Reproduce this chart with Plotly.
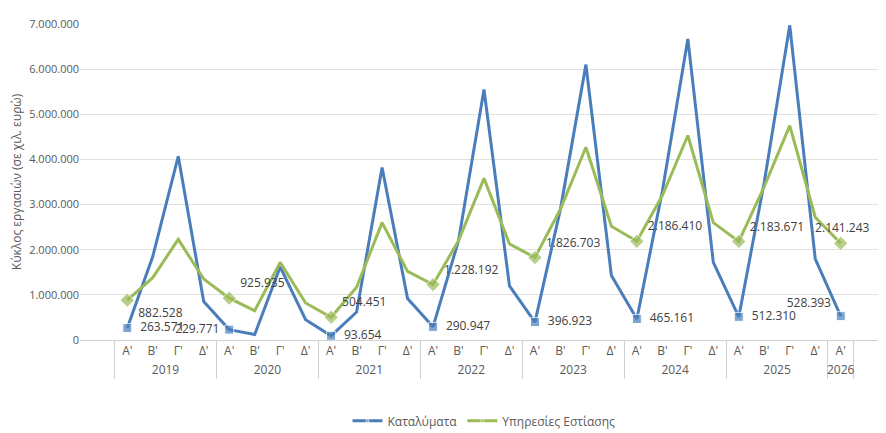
import plotly.graph_objects as go

years = ['2019'] * 4 + ['2020'] * 4 + ['2021'] * 4 + ['2022'] * 4 + ['2023'] * 4 + ['2024'] * 4 + ['2025'] * 4 + ['2026']
quarters = ["Α'", "Β'", "Γ'", "Δ'"] * 7 + ["Α'"]

katalymata = [263571, 1850000, 4070000, 850000,
              229771, 120000, 1620000, 450000,
              93654, 620000, 3820000, 920000,
              290947, 2200000, 5550000, 1200000,
              396923, 2900000, 6100000, 1430000,
              465161, 3300000, 6670000, 1720000,
              512310, 3500000, 6970000, 1800000,
              528393]
estiasi = [882528, 1380000, 2230000, 1350000,
           925935, 650000, 1720000, 820000,
           504451, 1170000, 2600000, 1520000,
           1228192, 2200000, 3580000, 2130000,
           1826703, 2900000, 4270000, 2520000,
           2186410, 3200000, 4530000, 2600000,
           2183671, 3400000, 4750000, 2720000,
           2141243]

def fmt(v):
    return f'{v:,}'.replace(',', '.')

q1 = [q == "Α'" for q in quarters]
blue_text = ['  ' + fmt(v) + ' ' if f else '' for v, f in zip(katalymata, q1)]
green_text = [' ' + fmt(v) if f else '' for v, f in zip(estiasi, q1)]
sizes = [9 if f else 0 for f in q1]

blue_pos = ['middle right'] * 29
blue_pos[4] = 'middle left'
blue_pos[28] = 'top left'
green_pos = ['top right'] * 29
green_pos[0] = 'bottom right'
green_pos[28] = 'top center'

fig = go.Figure()
fig.add_trace(go.Scatter(x=[years, quarters], y=katalymata, mode='lines+markers+text',
                         name='Καταλύματα', line=dict(color='#4a7ebb', width=3),
                         marker=dict(symbol='square', size=sizes, color='#4a7ebb'),
                         text=blue_text, textposition=blue_pos,
                         textfont=dict(size=12, color='#404040')))
fig.add_trace(go.Scatter(x=[years, quarters], y=estiasi, mode='lines+markers+text',
                         name='Υπηρεσίες Εστίασης', line=dict(color='#9bbb59', width=3),
                         marker=dict(symbol='diamond', size=[s + 2 if s else 0 for s in sizes], color='#9bbb59'),
                         text=green_text, textposition=green_pos,
                         textfont=dict(size=12, color='#404040')))

fig.update_layout(width=886, height=433, plot_bgcolor='white', paper_bgcolor='white',
                  separators=',.',
                  font=dict(family='Open Sans', size=11, color='#595959'),
                  margin=dict(l=72, r=6, t=16, b=99),
                  legend=dict(orientation='h', x=0.5, xanchor='center', y=-0.21, yanchor='top',
                              font=dict(size=12)),
                  yaxis=dict(title=dict(text='Κύκλος εργασιών (σε χιλ. ευρώ)', font=dict(size=12), standoff=6),
                             range=[0, 7000000], dtick=1000000, tickformat=',d',
                             gridcolor='#e0e0e0', zeroline=True, zerolinecolor='#d0d0d0'),
                  xaxis=dict(showdividers=True, dividercolor='#d0d0d0', showline=True,
                             linecolor='#d0d0d0', tickfont=dict(size=12)))
fig.write_html("out.html")
